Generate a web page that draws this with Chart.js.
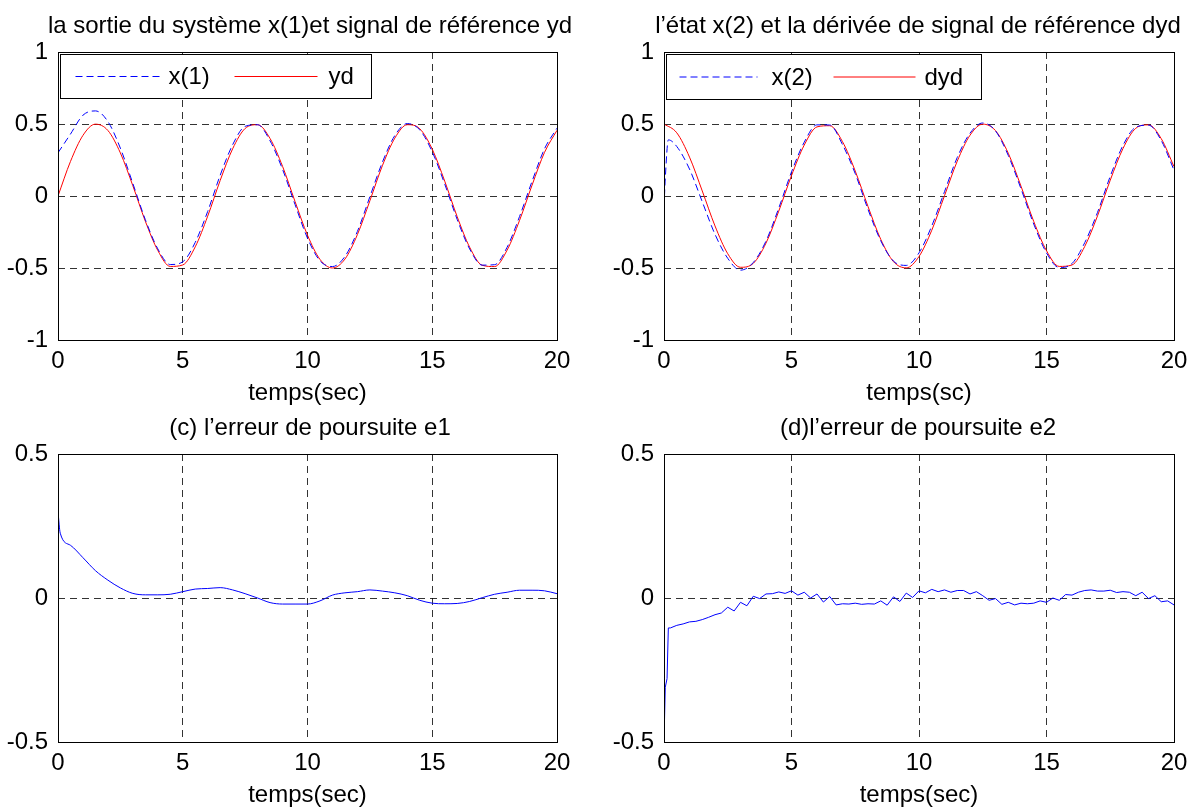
<!DOCTYPE html>
<html>
<head>
<meta charset="utf-8">
<script src="https://cdn.jsdelivr.net/npm/chart.js@4.4.0/dist/chart.umd.min.js"></script>
<style>
html, body { margin: 0; padding: 0; background: #fff; overflow: hidden; }
#wrap { position: relative; width: 1201px; height: 810px; overflow: hidden; }
#wrap canvas { position: absolute; left: 0; top: 0; }
</style>
</head>
<body>
<div id="wrap">
  <canvas id="c1" width="1260" height="810"></canvas>
  <canvas id="c2" width="1260" height="810"></canvas>
  <canvas id="c3" width="1260" height="810"></canvas>
  <canvas id="c4" width="1260" height="810"></canvas>
</div>
<script>
// time grids (s)
var tHalf = [0,0.5,1,1.5,2,2.5,3,3.5,4,4.5,5,5.5,6,6.5,7,7.5,8,8.5,9,9.5,10,
  10.5,11,11.5,12,12.5,13,13.5,14,14.5,15,15.5,16,16.5,17,17.5,18,18.5,19,19.5,20];
var tX2 = [0,0.05,0.17,0.5,1,1.5,2,2.5,3,3.5,4,4.5,5,5.5,6,6.5,7,7.5,8,8.5,9,9.5,10,
  10.5,11,11.5,12,12.5,13,13.5,14,14.5,15,15.5,16,16.5,17,17.5,18,18.5,19,19.5,20];
var tE1 = [0,0.09,0.5,1,1.5,2,2.5,3,3.5,4,4.5,5,5.5,6,6.5,7,7.5,8,8.5,9,9.5,10,
  10.5,11,11.5,12,12.5,13,13.5,14,14.5,15,15.5,16,16.5,17,17.5,18,18.5,19,19.5,20];
var tE2 = [0,0.05,0.12,0.17,
  0.25,0.5,0.75,1,1.25,1.5,1.75,2,2.25,2.5,2.75,3,3.25,3.5,3.75,4,4.25,4.5,4.75,5,
  5.25,5.5,5.75,6,6.25,6.5,6.75,7,7.25,7.5,7.75,8,8.25,8.5,8.75,9,9.25,9.5,9.75,10,
  10.25,10.5,10.75,11,11.25,11.5,11.75,12,12.25,12.5,12.75,13,13.25,13.5,13.75,14,14.25,14.5,14.75,15,
  15.25,15.5,15.75,16,16.25,16.5,16.75,17,17.25,17.5,17.75,18,18.25,18.5,18.75,19,19.25,19.5,19.75,20];

// series
var x1 = [0.30,0.43,0.561,0.591,0.517,0.332,0.087,-0.164,-0.367,-0.476,-0.457,-0.322,-0.107,0.144,0.356,0.484,0.495,0.383,0.185,-0.059,
  -0.293,-0.45,-0.49,-0.42,-0.246,-0.005,0.234,0.42,0.503,0.459,0.307,0.083,-0.163,-0.368,-0.48,-0.477,-0.356,-0.142,0.102,0.328,0.471];
var yd = [0,0.24,0.421,0.499,0.455,0.299,0.071,-0.175,-0.378,-0.489,-0.479,-0.353,-0.14,0.108,0.328,0.469,0.495,0.399,0.206,-0.038,
  -0.272,-0.44,-0.5,-0.438,-0.268,-0.033,0.21,0.402,0.495,0.467,0.325,0.103,-0.144,-0.356,-0.481,-0.49,-0.376,-0.169,0.075,0.303,0.456];
var x2 = [-0.08,0.12,0.39,0.344,0.187,-0.04,-0.266,-0.433,-0.515,-0.462,-0.313,-0.084,0.167,0.374,0.494,0.493,0.357,0.155,-0.093,-0.311,
  -0.452,-0.482,-0.395,-0.208,0.03,0.268,0.436,0.507,0.452,0.282,0.05,-0.195,-0.395,-0.497,-0.469,-0.324,-0.114,0.137,0.352,0.478,0.492,0.385,0.18];
var dyd = [0.5,0.439,0.27,0.035,-0.208,-0.401,-0.495,-0.468,-0.327,-0.105,0.142,0.354,0.48,0.488,0.377,0.173,-0.073,-0.301,-0.456,-0.499,
  -0.42,-0.238,0.002,0.242,0.422,0.499,0.454,0.297,0.068,-0.177,-0.38,-0.489,-0.479,-0.35,-0.138,0.11,0.33,0.47,0.494,0.398,0.204];
var e1 = [0.30,0.225,0.183,0.14,0.095,0.062,0.035,0.016,0.011,0.011,0.013,0.022,0.031,0.033,0.036,0.028,0.015,0,-0.016,-0.021,-0.021,
  -0.021,-0.01,0.01,0.018,0.022,0.028,0.024,0.018,0.008,-0.008,-0.018,-0.02,-0.019,-0.012,0.001,0.013,0.02,0.027,0.027,0.025,0.015];
var e2 = [-0.5,-0.31,-0.28,-0.104,
  -0.104,-0.095,-0.09,-0.083,-0.081,-0.075,-0.067,-0.058,-0.052,-0.032,-0.045,-0.015,-0.027,0.006,-0.002,0.014,0.015,0.021,0.016,0.025,
  0.01,0.02,0,0.014,-0.014,0.005,-0.024,-0.02,-0.021,-0.018,-0.022,-0.02,-0.021,-0.01,-0.025,0.004,-0.012,0.017,0.002,0.025,
  0.018,0.03,0.022,0.028,0.02,0.026,0.026,0.014,0.022,0.008,-0.008,-0.002,-0.022,-0.015,-0.024,-0.018,-0.02,-0.018,-0.01,-0.015,
  0,-0.008,0.012,0.01,0.02,0.026,0.028,0.024,0.024,0.027,0.019,0.022,0.02,0.008,0.02,-0.002,0.008,-0.013,-0.01,-0.024];

// tick labels
var xTicks = [0, 5, 10, 15, 20];
var yTicksTop = [-1, -0.5, 0, 0.5, 1];
var yTicksBottom = [-0.5, 0, 0.5];

var FONT = '"Liberation Sans", Arial, Helvetica, sans-serif';
var FS = 24;
Chart.defaults.font.family = FONT;
Chart.defaults.font.size = FS;
Chart.defaults.color = '#000';

var CW = 1260, CH = 810;
var TITLE_H = 53, XH = 68;
var gridColor = 'rgba(0,0,0,0.8)';

function pts(t, v) {
  return t.map(function (x, i) { return { x: x, y: v[i] }; });
}

// axes box + MATLAB style legend inside the axes
var boxPlugin = {
  id: 'matlabBox',
  afterDatasetsDraw: function (chart, args, opts) {
    var ctx = chart.ctx, a = chart.chartArea;
    var l = Math.round(a.left), t = Math.round(a.top), r = Math.round(a.right), b = Math.round(a.bottom);
    ctx.save();
    ctx.strokeStyle = '#000';
    ctx.lineWidth = 1;
    ctx.setLineDash([]);
    ctx.strokeRect(l + 0.5, t + 0.5, r - l, b - t);
    var lg = opts.legend;
    if (lg) {
      var bx = l + lg.dx + 0.5, by = t + lg.dy + 0.5;
      ctx.fillStyle = '#fff';
      ctx.fillRect(bx, by, lg.w, lg.h);
      ctx.strokeRect(bx, by, lg.w, lg.h);
      var cy = by + lg.h / 2;
      chart.data.datasets.forEach(function (ds, i) {
        var it = lg.items[i];
        ctx.beginPath();
        ctx.setLineDash(ds.borderDash || []);
        ctx.strokeStyle = ds.borderColor;
        ctx.lineWidth = ds.borderWidth;
        ctx.moveTo(bx + it[0], cy);
        ctx.lineTo(bx + it[1], cy);
        ctx.stroke();
        ctx.setLineDash([]);
        ctx.fillStyle = '#000';
        ctx.font = FS + 'px ' + FONT;
        ctx.textBaseline = 'middle';
        ctx.textAlign = 'left';
        ctx.fillText(ds.label, bx + it[2], cy + 1);
      });
    }
    ctx.restore();
  }
};

function makeChart(id, p) {
  var area = p.area;
  return new Chart(document.getElementById(id), {
    type: 'line',
    data: {
      datasets: p.series.map(function (s) {
        return {
          label: s.label,
          data: pts(s.t, s.v),
          borderColor: s.color,
          borderWidth: 1,
          borderDash: s.dash || [],
          pointRadius: 0,
          fill: false,
          tension: s.smooth ? 0.4 : 0,
          cubicInterpolationMode: s.smooth ? 'monotone' : 'default'
        };
      })
    },
    options: {
      responsive: false,
      animation: false,
      events: [],
      layout: {
        padding: { left: p.tL, right: CW - p.tR, top: area.top - TITLE_H, bottom: CH - area.bottom - XH }
      },
      scales: {
        x: {
          type: 'linear', min: 0, max: 20,
          afterBuildTicks: function (s) { s.ticks = xTicks.map(function (v) { return { value: v }; }); },
          afterFit: function (s) { s.height = XH; },
          ticks: { padding: 7, maxRotation: 0, autoSkip: false, callback: function (v) { return String(v); } },
          grid: { color: gridColor, lineWidth: 1, drawTicks: false },
          border: { display: false, dash: [7, 5] },
          title: { display: true, text: p.xlabel, padding: { top: 0, bottom: 0 } }
        },
        y: {
          position: 'left', min: p.yMin, max: p.yMax,
          afterBuildTicks: function (s) { s.ticks = p.yTicks.map(function (v) { return { value: v }; }); },
          afterFit: function (s) { s.width = area.left - p.tL; },
          ticks: { padding: 10, callback: function (v) { return String(v); } },
          grid: { color: gridColor, lineWidth: 1, drawTicks: false },
          border: { display: false, dash: [7, 5] }
        },
        yR: {
          position: 'right', display: true,
          afterFit: function (s) { s.width = p.tR - area.right; },
          ticks: { display: false },
          grid: { display: false },
          border: { display: false }
        }
      },
      plugins: {
        legend: { display: false },
        tooltip: { enabled: false },
        title: {
          display: true, text: p.title, color: '#000', fullSize: true,
          font: { size: FS, weight: 'normal', lineHeight: 1.2 },
          padding: { top: 12.6, bottom: TITLE_H - 12.6 - FS * 1.2 }
        },
        matlabBox: { legend: p.legend || null }
      }
    },
    plugins: [boxPlugin]
  });
}

makeChart('c1', {
  area: { left: 58, right: 557, top: 52, bottom: 340 }, tL: 0, tR: 620,
  yMin: -1, yMax: 1, yTicks: yTicksTop,
  title: 'la sortie du système x(1)et signal de référence yd',
  xlabel: 'temps(sec)',
  series: [
    { label: 'x(1)', t: tHalf, v: x1, color: '#0000ff', dash: [7, 4], smooth: true },
    { label: 'yd', t: tHalf, v: yd, color: '#ff0000', smooth: true }
  ],
  legend: { dx: 2, dy: 2, w: 311, h: 44, items: [[15, 101, 108], [174, 257, 268]] }
});

makeChart('c2', {
  area: { left: 664, right: 1174, top: 52, bottom: 340 }, tL: 610, tR: 1226,
  yMin: -1, yMax: 1, yTicks: yTicksTop,
  title: 'l’état x(2) et la dérivée de signal de référence dyd',
  xlabel: 'temps(sc)',
  series: [
    { label: 'x(2)', t: tX2, v: x2, color: '#0000ff', dash: [7, 4], smooth: true },
    { label: 'dyd', t: tHalf, v: dyd, color: '#ff0000', smooth: true }
  ],
  legend: { dx: 2, dy: 2, w: 315, h: 45, items: [[13, 91, 105], [167, 249, 258]] }
});

makeChart('c3', {
  area: { left: 58, right: 557, top: 454, bottom: 742 }, tL: 0, tR: 620,
  yMin: -0.5, yMax: 0.5, yTicks: yTicksBottom,
  title: '(c) l’erreur de poursuite e1',
  xlabel: 'temps(sec)',
  series: [
    { label: 'e1', t: tE1, v: e1, color: '#0000ff', smooth: true }
  ]
});

makeChart('c4', {
  area: { left: 664, right: 1174, top: 454, bottom: 742 }, tL: 610, tR: 1226,
  yMin: -0.5, yMax: 0.5, yTicks: yTicksBottom,
  title: '(d)l’erreur de poursuite e2',
  xlabel: 'temps(sec)',
  series: [
    { label: 'e2', t: tE2, v: e2, color: '#0000ff' }
  ]
});
</script>
</body>
</html>
